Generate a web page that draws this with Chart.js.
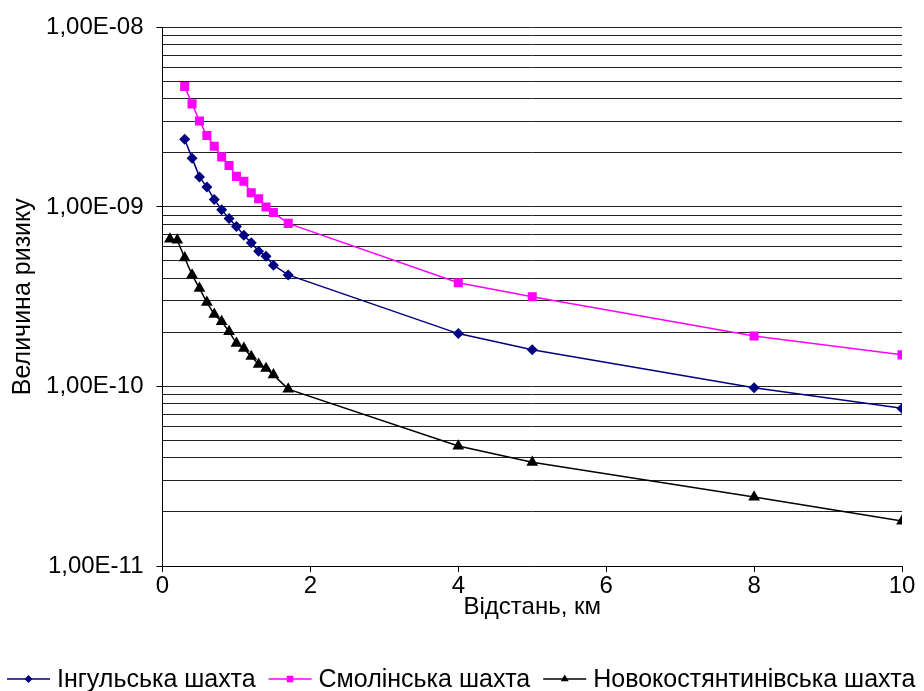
<!DOCTYPE html>
<html>
<head>
<meta charset="utf-8">
<script src="https://cdn.jsdelivr.net/npm/chart.js@4"></script>
<style>
  html, body { margin: 0; padding: 0; background: #fff; }
  #wrap { width: 924px; height: 691px; position: relative; }
</style>
</head>
<body>
<div id="wrap"><canvas id="c"></canvas></div>
<script>
// ---- data ----
const ingulX = [0.3,0.4,0.5,0.6,0.7,0.8,0.9,1.0,1.1,1.2,1.3,1.4,1.5,1.7,4,5,8,10];
const ingulY = [2.38e-9,1.87e-9,1.47e-9,1.29e-9,1.10e-9,9.66e-10,8.61e-10,7.78e-10,6.96e-10,6.31e-10,5.67e-10,5.32e-10,4.74e-10,4.18e-10,1.97e-10,1.60e-10,9.85e-11,7.55e-11];

const smolX = [0.3,0.4,0.5,0.6,0.7,0.8,0.9,1.0,1.1,1.2,1.3,1.4,1.5,1.7,4,5,8,10];
const smolY = [4.69e-9,3.75e-9,3.01e-9,2.50e-9,2.18e-9,1.90e-9,1.70e-9,1.48e-9,1.39e-9,1.20e-9,1.11e-9,1.00e-9,9.3e-10,8.1e-10,3.78e-10,3.16e-10,1.91e-10,1.50e-10];

const novoX = [0.1,0.2,0.3,0.4,0.5,0.6,0.7,0.8,0.9,1.0,1.1,1.2,1.3,1.4,1.5,1.7,4,5,8,10];
const novoY = [6.62e-10,6.53e-10,5.21e-10,4.18e-10,3.52e-10,2.94e-10,2.52e-10,2.30e-10,2.02e-10,1.74e-10,1.63e-10,1.47e-10,1.33e-10,1.26e-10,1.16e-10,9.66e-11,4.66e-11,3.78e-11,2.42e-11,1.78e-11];

const seriesNames = ['Інгульська шахта', 'Смолінська шахта', 'Новокостянтинівська шахта'];

const xTickValues = [0, 2, 4, 6, 8, 10];
const yDecadeValues = [1e-11, 1e-10, 1e-9, 1e-8];
const yDecadeLabels = ['1,00E-11', '1,00E-10', '1,00E-09', '1,00E-08'];
const yMinorMultipliers = [2, 3, 4, 5, 6, 7, 8, 9];

const xAxisTitle = 'Відстань, км';
const yAxisTitle = 'Величина ризику';

// ---- build ----
function pts(xs, ys) { return xs.map((x, i) => ({ x: x, y: ys[i] })); }

const FONT = "'Liberation Sans', Arial, sans-serif";

const styles = [
  { color: '#000080', pointStyle: 'rectRot', radius: 5.5 },
  { color: '#FF00FF', pointStyle: 'rect', radius: 6.4 },
  { color: '#000000', pointStyle: 'triangle', radius: 6.8 }
];

const datasets = [
  [ingulX, ingulY], [smolX, smolY], [novoX, novoY]
].map((d, i) => ({
  label: seriesNames[i],
  data: pts(d[0], d[1]),
  borderColor: styles[i].color,
  backgroundColor: styles[i].color,
  pointBackgroundColor: styles[i].color,
  pointBorderColor: styles[i].color,
  pointBorderWidth: 0,
  pointStyle: styles[i].pointStyle,
  pointRadius: styles[i].radius,
  pointHoverRadius: styles[i].radius,
  borderWidth: 1.5,
  tension: 0,
  showLine: true,
  fill: false
}));

const legendPlugin = {
  id: 'bottomLegend',
  afterDraw(chart) {
    const ctx = chart.ctx;
    ctx.save();
    ctx.font = '25px ' + FONT;
    ctx.textBaseline = 'middle';
    const y = 679;
    let x = 7;
    chart.data.datasets.forEach((ds, i) => {
      ctx.strokeStyle = styles[i].color;
      ctx.lineWidth = 1.5;
      ctx.beginPath();
      ctx.moveTo(x, y);
      ctx.lineTo(x + 43, y);
      ctx.stroke();
      ctx.fillStyle = styles[i].color;
      Chart.helpers.drawPoint(ctx, {
        pointStyle: styles[i].pointStyle,
        radius: styles[i].pointStyle === 'rectRot' ? 4 : 4.6,
        rotation: 0,
        borderWidth: 0
      }, x + 21.5, y);
      ctx.fillStyle = '#000';
      ctx.fillText(ds.label, x + 50, y + 1);
      x += 50 + ctx.measureText(ds.label).width + 13;
    });
    ctx.restore();
  }
};

new Chart(document.getElementById('c'), {
  type: 'scatter',
  data: { datasets: datasets },
  options: {
    responsive: true,
    maintainAspectRatio: false,
    animation: false,
    layout: { padding: { left: 0, right: 22, top: 25, bottom: 69 } },
    plugins: { legend: { display: false }, tooltip: { enabled: false } },
    scales: {
      x: {
        type: 'linear',
        min: 0, max: 10,
        afterBuildTicks(scale) { scale.ticks = xTickValues.map(v => ({ value: v })); },
        afterFit(scale) { scale.height = 56; },
        ticks: { font: { family: FONT, size: 24 }, color: '#000', padding: 0, maxRotation: 0 },
        grid: { drawOnChartArea: false, drawTicks: true, tickLength: 6, tickColor: '#000', tickWidth: 1 },
        border: { color: '#000', width: 1 },
        title: { display: true, text: xAxisTitle, color: '#000', font: { family: FONT, size: 24 }, padding: { top: 0, bottom: 0 } }
      },
      y: {
        type: 'logarithmic',
        min: 1e-11, max: 1e-8,
        afterBuildTicks(scale) {
          const t = [];
          for (let d = 0; d < yDecadeValues.length; d++) {
            t.push({ value: yDecadeValues[d], major: true });
            if (d < yDecadeValues.length - 1) {
              yMinorMultipliers.forEach(m => t.push({ value: m * yDecadeValues[d], major: false }));
            }
          }
          scale.ticks = t;
        },
        afterFit(scale) { scale.width = 162.5; },
        ticks: {
          autoSkip: false,
          font: { family: FONT, size: 24 }, color: '#000', padding: 13,
          callback(value) {
            const idx = yDecadeValues.findIndex(v => Math.abs(v - value) / v < 1e-6);
            return idx >= 0 ? yDecadeLabels[idx] : '';
          }
        },
        grid: {
          color: '#222', lineWidth: 1, tickLength: 6,
          tickColor(ctx) {
            const v = ctx.tick ? ctx.tick.value : 0;
            return yDecadeValues.some(d => Math.abs(d - v) / d < 1e-6) ? '#000' : 'rgba(0,0,0,0)';
          }
        },
        border: { color: '#000', width: 1 },
        title: { display: true, text: yAxisTitle, color: '#000', font: { family: FONT, size: 25 }, padding: { top: 8, bottom: 0 } }
      }
    }
  },
  plugins: [legendPlugin]
});
</script>
</body>
</html>
